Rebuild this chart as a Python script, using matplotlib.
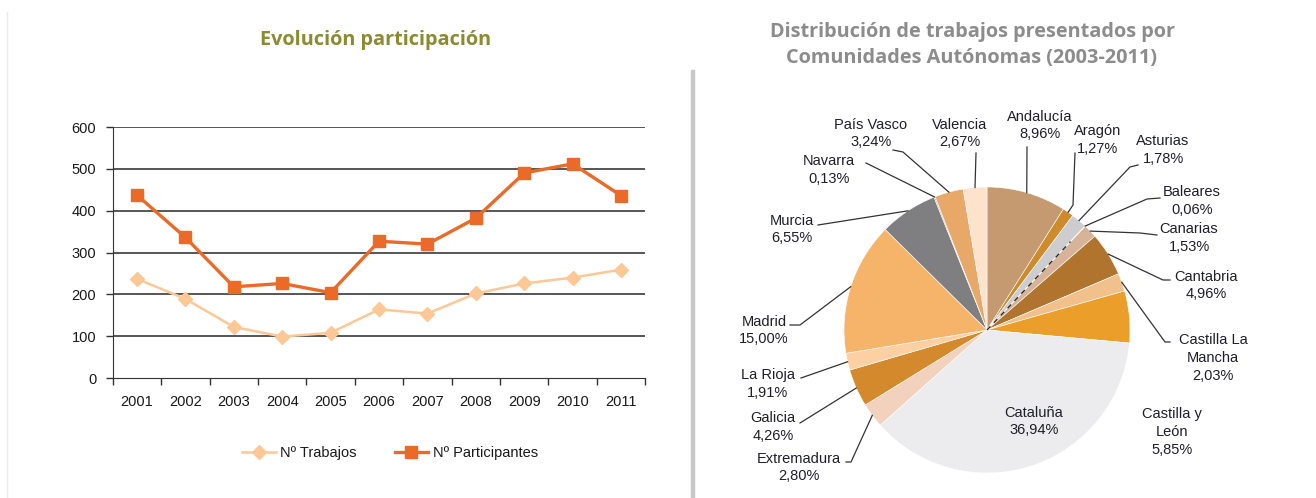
import numpy as np
import matplotlib
matplotlib.use("Agg")
import matplotlib.pyplot as plt
from matplotlib.lines import Line2D

# ---------------- data ----------------
years = ["2001", "2002", "2003", "2004", "2005", "2006", "2007", "2008", "2009", "2010", "2011"]
trabajos = [237, 189, 122, 99, 108, 164, 154, 202, 226, 240, 259]
participantes = [437, 336, 218, 226, 204, 327, 320, 382, 490, 512, 436]
yticks = [0, 100, 200, 300, 400, 500, 600]

regions = ["Andalucía", "Aragón", "Asturias", "Baleares", "Canarias", "Cantabria",
           "Castilla La\nMancha", "Castilla y\nLeón", "Cataluña", "Extremadura", "Galicia",
           "La Rioja", "Madrid", "Murcia", "Navarra", "País Vasco", "Valencia"]
shares = [8.96, 1.27, 1.78, 0.06, 1.53, 4.96, 2.03, 5.85, 36.94, 2.80, 4.26,
          1.91, 15.00, 6.55, 0.13, 3.24, 2.67]
share_labels = ["8,96%", "1,27%", "1,78%", "0,06%", "1,53%", "4,96%", "2,03%", "5,85%",
                "36,94%", "2,80%", "4,26%", "1,91%", "15,00%", "6,55%", "0,13%", "3,24%", "2,67%"]
pie_colors = ["#c59a70", "#cf8a2c", "#cdcdcf", "#9a9a9a", "#d7b39a", "#b0742e",
              "#f2c08a", "#eb9e2a", "#ececee", "#f2d2bc", "#d4892c", "#fdd0a4",
              "#f6b46a", "#7f7f81", "#a0a0a0", "#e8a868", "#fde2cc"]

W, H = 1316, 498
fig = plt.figure(figsize=(W / 100, H / 100), dpi=100)
fig.patch.set_facecolor("white")

LBL_FONT = ["Liberation Sans", "DejaVu Sans"]
TITLE_FONT = ["Open Sans", "DejaVu Sans"]

def fx(px):
    return px / W

def fy(py):
    return 1 - py / H

# decorative lines
fig.add_artist(Line2D([fx(7), fx(7)], [fy(12), fy(498)], color="#ebebeb", lw=1.0))
fig.add_artist(Line2D([fx(693), fx(693)], [fy(72), fy(498)], color="#c8c8ca", lw=3.2))

# ---------------- line chart ----------------
ax = fig.add_axes([fx(112.8), fy(378), fx(645.2) - fx(112.8), fy(127) - fy(378)])
x = np.arange(len(years))
ax.plot(x, trabajos, color="#fdc896", lw=1.8, marker="D", ms=7.5,
        mfc="#fdc896", mec="#fdc896", label="Nº Trabajos", zorder=3)
ax.plot(x, participantes, color="#ec6a28", lw=2.4, marker="s", ms=8.5,
        mfc="#ec6a28", mec="#ec6a28", label="Nº Participantes", zorder=4)
ax.set_xlim(-0.5, len(years) - 0.5)
ax.set_ylim(0, 600)
ax.set_yticks(yticks)
ax.set_yticklabels([str(v) for v in yticks], fontsize=10.5, family=LBL_FONT, color="#1a1a1a")
ax.set_xticks(x)
ax.set_xticklabels(years, fontsize=10.5, family=LBL_FONT, color="#1a1a1a")
ax.set_xticks(np.arange(-0.5, len(years)), minor=True)
ax.tick_params(axis="x", which="major", length=0, pad=12)
ax.tick_params(axis="x", which="minor", length=5, width=1, color="#333333")
ax.tick_params(axis="y", length=5, width=1, color="#333333", pad=7)
for v in yticks[1:]:
    ax.axhline(v, color="#3a3a3a", lw=1.2, zorder=1)
for s in ["top", "right"]:
    ax.spines[s].set_visible(False)
ax.spines["left"].set_color("#333333")
ax.spines["bottom"].set_color("#333333")
ax.set_facecolor("none")

leg = fig.legend(loc="center", bbox_to_anchor=(fx(390), fy(453)), ncol=2, frameon=False,
                 prop={"family": LBL_FONT, "size": 10.5}, handlelength=2.3,
                 columnspacing=2.6, handletextpad=0.3)
for t in leg.get_texts():
    t.set_color("#1a1a1a")

fig.text(fx(376), fy(40), "Evolución participación", ha="center", va="center",
         fontsize=14.3, fontweight="bold", color="#8b8b30", family=TITLE_FONT)

# ---------------- pie chart ----------------
CX, CY, R = 987, 330, 143
pax = fig.add_axes([fx(CX - R), fy(CY + R), 2 * R / W, 2 * R / H])
wedges, _ = pax.pie(shares, colors=pie_colors, startangle=90, counterclock=False,
                    wedgeprops=dict(edgecolor="white", linewidth=0.4))
pax.set_xlim(-1, 1)
pax.set_ylim(-1, 1)
pax.set_aspect("equal")
pax.axis("off")

def d(px, py):
    return ((px - CX) / R, (CY - py) / R)

# dashed line for the tiny Baleares slice
bw = wedges[3]
ang = np.deg2rad((bw.theta1 + bw.theta2) / 2)
pax.plot([0, 0.85 * np.cos(ang)], [0, 0.85 * np.sin(ang)], color="#222222", lw=0.9,
         ls=(0, (4, 4)), zorder=5)

# label layout: (text center px, leader points px from text towards the wedge)
layout = {
    "Andalucía": ((1040, 125.5), [(1027, 147)]),
    "Aragón": ((1098, 140), [(1075, 153), (1073, 205)]),
    "Asturias": ((1163, 150), [(1138, 165), (1130, 167)]),
    "Baleares": ((1192, 201), [(1160, 198), (1147, 199)]),
    "Canarias": ((1189, 238), [(1157, 235), (1140, 233)]),
    "Cantabria": ((1206, 285.5), [(1170, 280), (1163, 280)]),
    "Castilla La\nMancha": ((1213, 358), [(1170, 342), (1165, 342)]),
    "Castilla y\nLeón": ((1172, 432), []),
    "Cataluña": ((1034, 421.5), []),
    "Extremadura": ((799, 467.5), [(846, 462), (851, 462)]),
    "Galicia": ((773, 427), [(800, 423)]),
    "La Rioja": ((768, 384), [(801, 378)]),
    "Madrid": ((764, 330.5), [(790, 325), (800, 325)]),
    "Murcia": ((792, 229.5), [(818, 225)]),
    "Navarra": ((829, 170), [(866, 163)]),
    "País Vasco": ((871, 133.5), [(893, 150), (903, 152)]),
    "Valencia": ((960, 133.5), [(976, 153)]),
}

for w, name, lab in zip(wedges, regions, share_labels):
    (tx, ty), pts = layout[name]
    pax.text(*d(tx, ty), f"{name}\n{lab}", ha="center", va="center", fontsize=10.5,
             family=LBL_FONT, color="#1f1f2a", linespacing=1.35, clip_on=False, zorder=6)
    if pts:
        a = np.deg2rad((w.theta1 + w.theta2) / 2)
        xs = [d(*p)[0] for p in pts] + [np.cos(a)]
        ys = [d(*p)[1] for p in pts] + [np.sin(a)]
        pax.plot(xs, ys, color="#333333", lw=0.9, clip_on=False, zorder=5)

fig.text(fx(972), fy(32), "Distribución de trabajos presentados por", ha="center", va="center",
         fontsize=14.3, fontweight="bold", color="#8c8c8c", family=TITLE_FONT)
fig.text(fx(972), fy(58), "Comunidades Autónomas (2003-2011)", ha="center", va="center",
         fontsize=14.3, fontweight="bold", color="#8c8c8c", family=TITLE_FONT)

fig.savefig("out.png", dpi=100, facecolor="white")
